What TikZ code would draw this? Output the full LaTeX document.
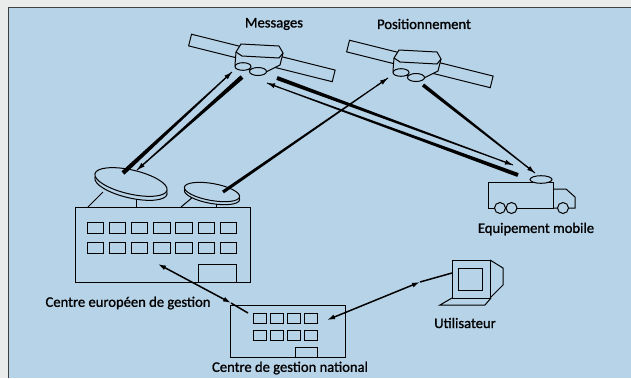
\documentclass[tikz,border=0pt]{standalone}
\usepackage{fontspec}
\setmainfont{Carlito}
\newfontfamily\lblfont{Carlito}[FakeBold=1.2]
\usetikzlibrary{arrows.meta,calc}

\definecolor{sheet}{RGB}{183,211,232}
\definecolor{margin}{RGB}{234,235,235}

% satellite: panel boom, hexagonal body, two antenna dishes underneath
\newcommand{\satellite}[1]{%
  \begin{scope}[shift={(#1)}]
    \draw[outline, fill=sheet, rotate=-14] (-70,-6) rectangle (78,6);
    \draw[outline, fill=sheet] (-17,-13) -- (21,-11) -- (25,-4) -- (22,8)
      -- (4,17) -- (-23,8) -- (-22,-5) -- cycle;
    \draw[outline] (-22,-5) -- (-16,-1) -- (21,1) -- (25,-4);
    \draw[outline, fill=sheet] (-15,9.5) ellipse (8pt and 3.8pt);
    \draw[outline, fill=sheet] (0,14.5) ellipse (8.5pt and 4pt);
  \end{scope}}

% radio beam: wide at the sender (#1), thin at the receiver (#2), half width #3
\newcommand{\beam}[3]{%
  \fill ($(#1)!#3!90:(#2)$) -- ($(#1)!#3!-90:(#2)$)
    -- ($(#2)!0.5pt!90:(#1)$) -- ($(#2)!0.5pt!-90:(#1)$) -- cycle;
  \draw[-tip, line width=1pt] ($(#2)!14pt!(#1)$) -- (#2);}

\begin{document}
\begin{tikzpicture}[x=1pt, y=-1pt,
  outline/.style={line width=1pt},
  lbl/.style={font=\lblfont\fontsize{14.6}{16}\selectfont},
  tip/.tip={Latex[length=8pt,width=5pt]},
  ground link/.style={line width=1.5pt, tip-tip}]
  \useasboundingbox (0,0) rectangle (631,378);
  % page and frame
  \fill[margin] (0,0) rectangle (631,378);
  \fill[sheet] (8,8) rectangle (631,378);
  \draw[line width=1.4pt, black!75] (8.3,378) -- (8.3,7.5) -- (631,7.5);

  % satellites
  \satellite{258,57}
  \satellite{416,63}
  \node[lbl] (msg) at (274,24) {Messages};
  \node[lbl] (pos) at (424,24) {Positionnement};

  % ground station: dishes on the roof
  \draw[outline] (88,207) -- (103,192);
  \draw[outline] (136,207) -- (136,199);
  \draw[outline, fill=sheet, rotate around={-13:(131,186)}] (131,186) ellipse (37pt and 12pt);
  \draw[outline, fill=sheet, rotate around={-13:(131,182)}] (131,182) ellipse (37pt and 12pt);
  \draw[outline] (181,207) -- (193,197);
  \draw[outline] (216,207) -- (216,201);
  \draw[outline, fill=sheet, rotate around={-10:(212,195)}] (212,195) ellipse (28pt and 8.5pt);
  \draw[outline, fill=sheet, rotate around={-10:(212,192)}] (212,192) ellipse (28pt and 8.5pt);

  % centre europeen
  \draw[outline] (75,207) rectangle (250,282);
  \foreach \x in {0,...,6} {
    \draw[outline] ({87+22.2*\x},222) rectangle ++(16.5,11.5);
    \draw[outline] ({87+22.2*\x},242) rectangle ++(16.5,11.5);
  }
  \draw[outline] (198,264) rectangle (236,282);
  \node[lbl] (ceg) at (128,303) {Centre européen de gestion};

  % centre national
  \draw[outline] (230,305) rectangle (345,357);
  \foreach \x in {0,...,3} {
    \draw[outline] ({253.5+17*\x},313) rectangle ++(12.5,10);
    \draw[outline] ({253.5+17*\x},330) rectangle ++(12.5,10);
  }
  \draw[outline] (295,347) rectangle (317,357);
  \node[lbl] (cgn) at (290,368) {Centre de gestion national};

  % mobile unit
  \draw[outline] (488,182) rectangle (553,208);
  \draw[outline] (553,189) -- (566,189) -- (575,197) -- (575,208) -- (553,208);
  \foreach \w in {500,511.5,563}
    \draw[outline, fill=sheet] (\w,208) circle (5.5pt);
  \draw[outline, fill=sheet] (541,179.5) ellipse (11pt and 3.8pt);
  \node[lbl] (mob) at (536,229) {Equipement mobile};

  % user terminal
  \draw[outline] (452,260) rectangle (490,298);
  \draw[outline] (458.5,268) rectangle (482,290);
  \draw[outline] (490,260) -- (503,268) -- (503,285) -- (490,298);
  \draw[outline] (452,298) -- (440,305) -- (485,305) -- (491,298);
  \node[lbl] (usr) at (465,323) {Utilisateur};

  % link end points
  \coordinate (d1 up) at (123,173);  \coordinate (s1 in) at (232,72);
  \coordinate (s1 down) at (242,77); \coordinate (d1 in) at (137,170);
  \coordinate (s1 out) at (277,78);  \coordinate (m in) at (513,165);
  \coordinate (m up) at (518,175);   \coordinate (s1 back) at (267,83);
  \coordinate (d2 up) at (223,192);  \coordinate (s2 in) at (388,78);
  \coordinate (s2 out) at (423,85);  \coordinate (m fix) at (535,173);
  \coordinate (eu) at (158,264);     \coordinate (eu mid) at (231,303);
  \coordinate (nat) at (248,313);
  \coordinate (nat r) at (327,320);  \coordinate (us mid) at (420,282);
  \coordinate (us) at (452,273);

  % satellite links
  \beam{d1 up}{s1 in}{2.2pt}
  \beam{s1 down}{d1 in}{2.2pt}
  \beam{s1 out}{m in}{2pt}
  \beam{m up}{s1 back}{2pt}
  \beam{d2 up}{s2 in}{1.6pt}
  \beam{s2 out}{m fix}{1.8pt}

  % ground links
  \draw[ground link] (eu) -- (eu mid);
  \draw[line width=1.5pt] (eu mid) -- (nat);
  \draw[ground link] (nat r) -- (us mid);
  \draw[line width=1.5pt] (us mid) -- (us);
\end{tikzpicture}
\end{document}
